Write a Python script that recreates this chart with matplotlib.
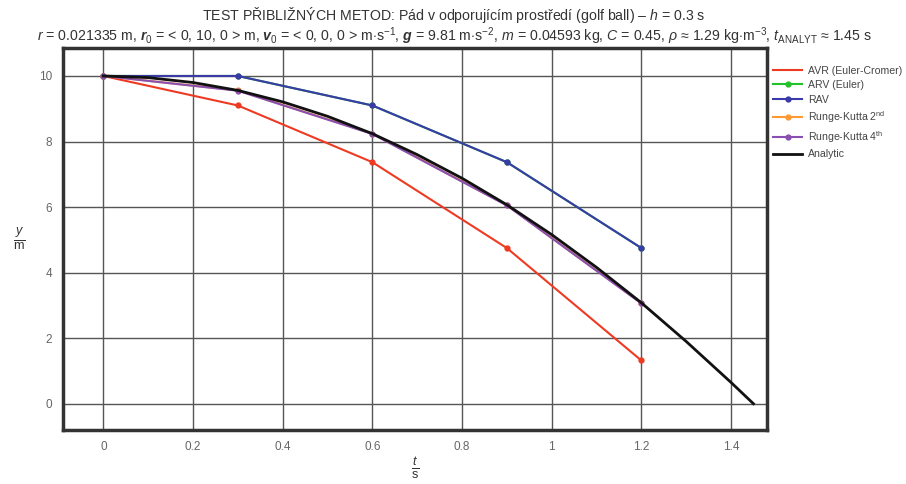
import matplotlib
matplotlib.use('Agg')
import matplotlib.pyplot as plt
from matplotlib.lines import Line2D

plt.rcParams['font.family'] = ['Liberation Sans', 'DejaVu Sans']
plt.rcParams['mathtext.fontset'] = 'custom'
plt.rcParams['mathtext.rm'] = 'Liberation Sans'
plt.rcParams['mathtext.it'] = 'Liberation Sans:italic'
plt.rcParams['mathtext.bf'] = 'Liberation Sans:bold'
plt.rcParams['mathtext.bfit'] = 'Liberation Sans:italic:bold'

# numeric methods, step h = 0.3 s
t_num = [0, 0.3, 0.6, 0.9, 1.2]
y_avr = [10, 9.10, 7.37, 4.75, 1.32]
y_arv = [10, 10, 9.10, 7.37, 4.75]
y_rav = [10, 10, 9.10, 7.37, 4.75]
y_rk2 = [10, 9.56, 8.24, 6.06, 3.07]
y_rk4 = [10, 9.55, 8.23, 6.05, 3.06]

# analytic solution
t_an = [0, 0.1, 0.2, 0.3, 0.4, 0.5, 0.6, 0.7, 0.8, 0.9, 1.0, 1.1, 1.2, 1.3, 1.4, 1.45]
y_an = [10, 9.95, 9.80, 9.56, 9.21, 8.77, 8.24, 7.60, 6.88, 6.07, 5.16, 4.16, 3.08, 1.90, 0.65, 0.0]

xticks = [0, 0.2, 0.4, 0.6, 0.8, 1, 1.2, 1.4]
xtick_labels = ['0', '0.2', '0.4', '0.6', '0.8', '1', '1.2', '1.4']
yticks = [0, 2, 4, 6, 8, 10]

fig = plt.figure(figsize=(9.06, 4.84), dpi=100)
ax = fig.add_axes((0.0695, 0.1116, 0.777, 0.789))

ax.plot(t_num, y_avr, color='#ee3a22', lw=1.5, marker='o', ms=3.5, label='AVR (Euler-Cromer)')
ax.plot(t_num, y_arv, color='#22c22a', lw=1.5, marker='o', ms=3.5, label='ARV (Euler)')
ax.plot(t_num, y_rav, color='#3a3aa8', lw=1.5, marker='o', ms=3.5, label='RAV')
ax.plot(t_num, y_rk2, color='#ff9a33', lw=1.5, marker='o', ms=3.5, label='Runge-Kutta 2$^{\\mathrm{nd}}$')
ax.plot(t_num, y_rk4, color='#8a4fb0', lw=1.5, marker='o', ms=3.5, label='Runge-Kutta 4$^{\\mathrm{th}}$')
ax.plot(t_an, y_an, color='#111111', lw=2, label='Analytic')

ax.set_xlim(-0.09, 1.48)
ax.set_ylim(-0.8, 10.85)
ax.set_xticks(xticks)
ax.set_xticklabels(xtick_labels)
ax.set_yticks(yticks)
ax.grid(True, color='#555555', lw=1)
ax.set_axisbelow(True)
ax.tick_params(length=0, labelsize=8.5, labelcolor='#666666', pad=8)
for s in ax.spines.values():
    s.set_linewidth(2.5)
    s.set_color('#333333')

ax.set_xlabel(r'$\frac{t}{\mathrm{s}}$', fontsize=13, color='#333333', labelpad=2)
ax.set_ylabel(r'$\frac{y}{\mathrm{m}}$', fontsize=13, color='#333333', rotation=0,
              labelpad=14, va='center')

fig.text(0.501, 0.970, 'TEST PŘIBLIŽNÝCH METOD: Pád v odporujícím prostředí (golf ball) – $h$ = 0.3 s',
         ha='center', va='center', fontsize=10.2, color='#333333')
fig.text(0.502, 0.926,
         r'$r$ = 0.021335 m, $\mathbfit{r}_0$ = < 0, 10, 0 > m, $\mathbfit{v}_0$ = < 0, 0, 0 > m$\cdot$s$^{-1}$, '
         r'$\mathbfit{g}$ = 9.81 m$\cdot$s$^{-2}$, $m$ = 0.04593 kg, $C$ = 0.45, $\rho$ ≈ 1.29 kg$\cdot$m$^{-3}$, '
         r'$t_{\mathrm{ANALYT}}$ ≈ 1.45 s',
         ha='center', va='center', fontsize=10.2, color='#333333')

handles, labels = ax.get_legend_handles_labels()
handles[0] = Line2D([], [], color='#ee3a22', lw=1.5)
fig.legend(handles, labels, loc='upper left', bbox_to_anchor=(0.843, 0.884), frameon=False,
           fontsize=7.6, handlelength=2.7, handletextpad=0.6, labelspacing=0.42,
           labelcolor='#444444')

fig.savefig('out.png', dpi=100)
